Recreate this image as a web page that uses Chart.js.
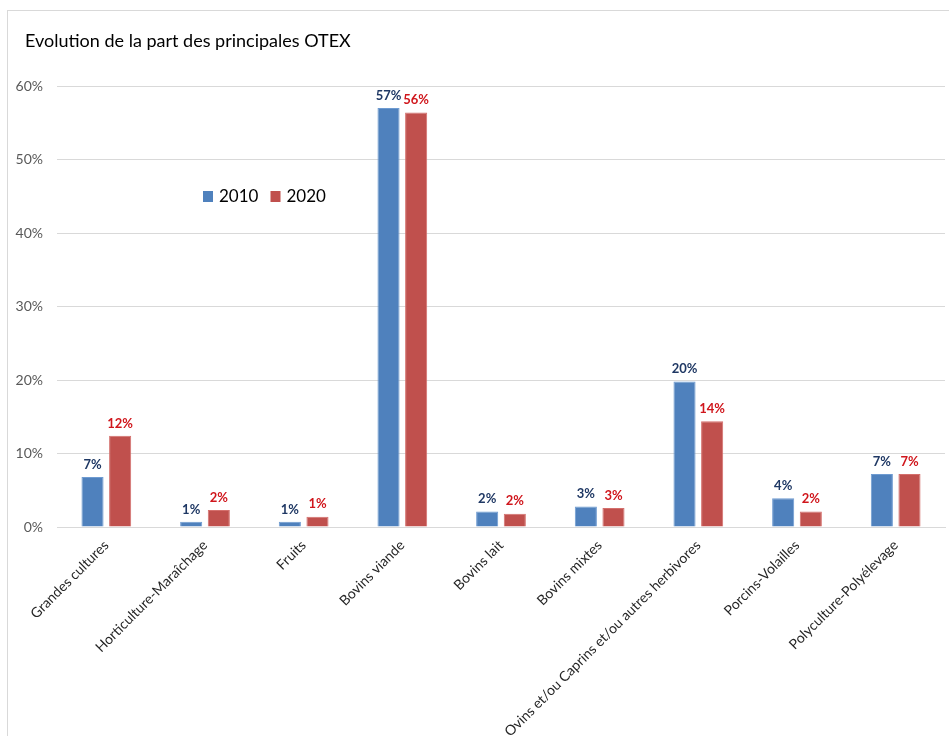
<!DOCTYPE html>
<html>
<head>
<meta charset="utf-8">
<script src="https://cdn.jsdelivr.net/npm/chart.js@4/dist/chart.umd.min.js"></script>
<style>
  html, body { margin: 0; padding: 0; background: #ffffff; }
  #wrap { position: relative; width: 949px; height: 736px; overflow: hidden; }
  #frame { position: absolute; left: 7px; top: 10px; width: 1000px; height: 1000px; border: 1px solid #d9d9d9; box-sizing: border-box; }
  #c { position: absolute; left: 0; top: 0; }
</style>
</head>
<body>
<div id="wrap">
  <div id="frame"></div>
  <canvas id="c" width="949" height="736"></canvas>
</div>
<script>
const chartTitle = "Evolution de la part des principales OTEX";
const categories = [
  "Grandes cultures",
  "Horticulture-Maraîchage",
  "Fruits",
  "Bovins viande",
  "Bovins lait",
  "Bovins mixtes",
  "Ovins et/ou Caprins et/ou autres herbivores",
  "Porcins-Volailles",
  "Polyculture-Polyélevage"
];
const seriesNames = ["2010", "2020"];
const values2010 = [6.8, 0.7, 0.7, 57.0, 2.1, 2.8, 19.8, 3.9, 7.2];
const values2020 = [12.4, 2.3, 1.4, 56.4, 1.8, 2.6, 14.4, 2.1, 7.2];
const yTicks = [0, 10, 20, 30, 40, 50, 60];

const FONT = "Lato, 'Open Sans', sans-serif";
const barColors = ["#4f81bd", "#c0504d"];
const labelColors = ["#1f3864", "#d0161c"];

const overlay = {
  id: "overlay",
  afterDatasetsDraw(chart) {
    const ctx = chart.ctx;
    ctx.save();
    // data labels
    ctx.font = "bold 13px " + FONT;
    ctx.textAlign = "center";
    ctx.textBaseline = "bottom";
    chart.data.datasets.forEach((ds, di) => {
      const meta = chart.getDatasetMeta(di);
      ctx.fillStyle = labelColors[di];
      meta.data.forEach((bar, i) => {
        ctx.fillText(Math.round(ds.data[i]) + "%", bar.x, bar.y - 6);
      });
    });
    // title
    ctx.font = "18px " + FONT;
    ctx.fillStyle = "#000000";
    ctx.textAlign = "left";
    ctx.textBaseline = "middle";
    ctx.fillText(chartTitle, 25, 41);
    // legend
    ctx.font = "17px " + FONT;
    let x = 203;
    chart.data.datasets.forEach((ds, di) => {
      ctx.fillStyle = barColors[di];
      ctx.fillRect(x, 191, 10, 11);
      ctx.fillStyle = "#000000";
      ctx.fillText(ds.label, x + 16, 197);
      x += 67.5;
    });
    ctx.restore();
  }
};

new Chart(document.getElementById("c"), {
  type: "bar",
  data: {
    labels: categories,
    datasets: [
      { label: seriesNames[0], data: values2010, backgroundColor: barColors[0], borderColor: "#6e9bd1", borderWidth: 1 },
      { label: seriesNames[1], data: values2020, backgroundColor: barColors[1], borderColor: "#d46f6c", borderWidth: 1 }
    ]
  },
  options: {
    responsive: false,
    animation: false,
    devicePixelRatio: 1,
    layout: { padding: { top: 86, right: 4, left: 0, bottom: 0 } },
    datasets: { bar: { categoryPercentage: 0.56, barPercentage: 0.8 } },
    plugins: {
      legend: { display: false },
      title: { display: false },
      tooltip: { enabled: false }
    },
    scales: {
      x: {
        grid: { display: false },
        border: { display: true, color: "#d9d9d9" },
        ticks: {
          color: "#262626",
          font: { family: FONT, size: 14 },
          minRotation: 45,
          maxRotation: 45,
          autoSkip: false,
          padding: 2
        },
        afterFit(scale) { scale.height = 209; }
      },
      y: {
        min: 0,
        max: 60,
        afterBuildTicks(scale) { scale.ticks = yTicks.map(v => ({ value: v })); },
        grid: { color: "#d9d9d9", drawTicks: false },
        border: { display: false },
        ticks: {
          color: "#595959",
          font: { family: FONT, size: 14 },
          padding: 14,
          callback: v => v + "%"
        },
        afterFit(scale) { scale.width = 57; }
      }
    }
  },
  plugins: [overlay]
});
</script>
</body>
</html>
